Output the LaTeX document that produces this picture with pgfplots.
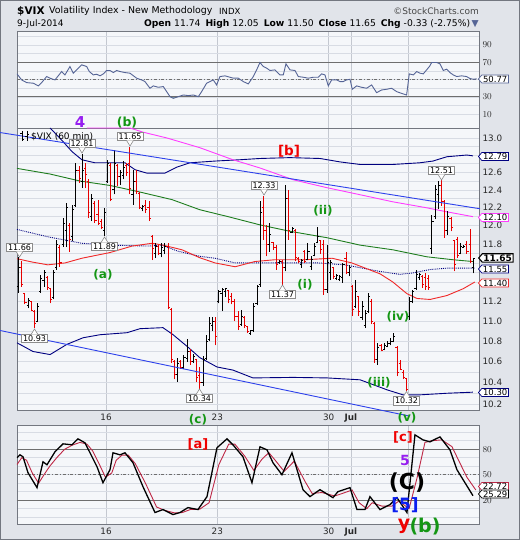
\documentclass[border=0pt]{standalone}
\usepackage{fontspec}
\setmainfont{DejaVu Sans}
\usepackage{pgfplots}
\pgfplotsset{compat=1.18}
\usepackage{pgfplotstable}
\usetikzlibrary{shapes.symbols}

\definecolor{outerbg}{RGB}{225,228,234}
\definecolor{panelbg}{RGB}{245,247,250}
\definecolor{gridc}{RGB}{216,220,228}
\definecolor{vgridc}{RGB}{196,200,208}
\definecolor{framec}{RGB}{115,119,128}
\definecolor{tickc}{RGB}{40,40,40}
\definecolor{barred}{RGB}{230,0,0}
\definecolor{navyc}{RGB}{0,0,128}
\definecolor{bluel}{RGB}{45,65,235}
\definecolor{magc}{RGB}{255,60,255}
\definecolor{greenma}{RGB}{30,125,30}
\definecolor{redma}{RGB}{240,40,40}
\definecolor{rsic}{RGB}{85,100,150}
\definecolor{rsifill}{RGB}{140,170,165}
\definecolor{stochred}{RGB}{190,40,70}
\definecolor{ewgreen}{RGB}{20,150,20}
\definecolor{ewred}{RGB}{240,0,0}
\definecolor{ewpurple}{RGB}{150,30,240}
\definecolor{ewblue}{RGB}{10,30,240}
\definecolor{callc}{RGB}{140,140,140}
\definecolor{refline}{RGB}{110,110,110}

\newcommand\fs[1]{\fontsize{#1}{#1}\selectfont}

\pgfdeclareplotmark{opentick}{\pgfpathmoveto{\pgfqpoint{-1.6pt}{0pt}}\pgfpathlineto{\pgfqpoint{0pt}{0pt}}\pgfusepathqstroke}
\pgfdeclareplotmark{closetick}{\pgfpathmoveto{\pgfqpoint{0pt}{0pt}}\pgfpathlineto{\pgfqpoint{1.6pt}{0pt}}\pgfusepathqstroke}

\pgfplotsset{panel/.style={scale only axis, width=462pt, xmin=0, xmax=145.3, anchor=south west,
  axis background/.style={fill=panelbg}, axis line style={framec, line width=0.8pt},
  xtick={28,63,98,105,123}, xmajorgrids, ymajorgrids, yminorgrids,
  major grid style={gridc, line width=0.6pt}, minor grid style={gridc, line width=0.6pt},
  major tick length=0pt, minor tick length=0pt, yticklabel pos=right,
  ticklabel style={font=\fs{8.8}, text=tickc}}}

\newcommand\callhi[3]{%
 \node[draw=callc, fill=white, line width=0.6pt, inner xsep=1.5pt, inner ysep=1pt, font=\fs{8}, anchor=south] at (#1,#2-5) {#3};
 \fill[white] (#1-3.5,#2-5.6) -- (#1,#2) -- (#1+3.5,#2-5.6) -- cycle;
 \draw[callc, line width=0.6pt] (#1-3.5,#2-5.6) -- (#1,#2) -- (#1+3.5,#2-5.6);}
\newcommand\calllo[3]{%
 \node[draw=callc, fill=white, line width=0.6pt, inner xsep=1.5pt, inner ysep=1pt, font=\fs{8}, anchor=north] at (#1,#2+5) {#3};
 \fill[white] (#1-3.5,#2+5.6) -- (#1,#2) -- (#1+3.5,#2+5.6) -- cycle;
 \draw[callc, line width=0.6pt] (#1-3.5,#2+5.6) -- (#1,#2) -- (#1+3.5,#2+5.6);}
\newcommand\vtag[5][]{\node[signal, signal to=west, signal pointer angle=100, draw=#2, fill=white, line width=0.7pt, inner xsep=1.2pt, inner ysep=0.8pt, font=\fs{8.5}, anchor=west, #1] at (#3,#4) {#5};}

% hourly OHLC bars, k = bar index (Jun 10 09:30 = 0)
\pgfplotstableread{
k o h l c
0 11.35 11.66 11.29 11.55
3 11.16 11.23 11.13 11.21
6 11.00 11.18 10.99 11.15
7 11.30 11.47 11.29 11.44
8 11.42 11.53 11.35 11.50
11 11.24 11.53 11.22 11.50
12 11.55 11.85 11.53 11.80
14 11.80 12.09 11.77 12.03
15 11.95 12.25 11.77 12.20
17 11.88 12.23 11.83 12.18
18 12.22 12.71 12.21 12.62
20 12.50 12.81 12.42 12.62
23 12.10 12.35 12.05 12.30
27 11.95 12.20 11.89 12.15
28 12.50 12.745 12.48 12.70
30 12.40 12.86 12.35 12.70
32 12.55 12.63 12.46 12.60
33 12.56 12.73 12.52 12.66
36 12.35 12.63 12.23 12.50
39 12.19 12.23 12.16 12.21
43 11.70 11.81 11.65 11.78
45 11.70 11.81 11.66 11.76
46 11.73 11.81 11.70 11.78
50 10.48 10.64 10.41 10.58
52 10.55 10.67 10.53 10.64
53 10.63 10.82 10.60 10.70
55 10.60 10.68 10.59 10.65
58 10.40 10.66 10.37 10.62
59 10.63 10.86 10.62 10.80
60 10.82 11.04 10.80 10.98
61 10.96 11.04 10.90 11.00
63 11.20 11.32 11.18 11.30
64 11.28 11.34 11.10 11.32
65 11.30 11.33 11.25 11.33
70 10.97 11.11 10.95 11.05
73 10.88 10.91 10.86 10.91
74 10.91 11.18 10.89 11.15
75 11.18 11.37 11.16 11.35
76 11.37 12.27 11.35 12.15
79 11.80 12.03 11.72 11.90
82 11.60 11.63 11.59 11.62
84 11.55 12.45 11.51 12.30
86 11.93 11.99 11.92 11.97
89 11.58 11.64 11.55 11.63
91 11.64 11.81 11.63 11.72
92 11.56 11.67 11.53 11.64
93 11.68 11.81 11.67 11.78
94 11.82 11.99 11.81 11.88
97 11.32 11.79 11.29 11.60
98 11.50 11.63 11.42 11.60
100 11.44 11.48 11.42 11.47
101 11.43 11.47 11.41 11.46
102 11.45 11.60 11.39 11.58
104 11.50 11.58 11.46 11.55
106 11.15 11.42 11.13 11.30
108 11.04 11.20 11.01 11.15
109 10.96 11.11 10.93 11.08
110 11.10 11.29 11.08 11.25
113 10.62 10.78 10.57 10.74
115 10.72 10.78 10.71 10.76
116 10.75 10.80 10.74 10.78
117 10.78 10.83 10.76 10.80
118 10.80 10.88 10.79 10.85
123 11.05 11.25 11.01 11.20
124 11.20 11.32 11.18 11.30
125 11.33 11.53 11.32 11.48
126 11.45 11.49 11.42 11.48
130 11.75 12.12 11.70 12.05
131 12.10 12.46 12.07 12.40
132 12.35 12.50 12.18 12.45
135 11.95 12.16 11.90 12.10
139 11.70 11.81 11.69 11.78
140 11.77 11.79 11.76 11.78
143 11.55 11.65 11.49 11.65
}\upbars

\pgfplotstableread{
k o h l c
1 11.55 11.62 11.35 11.37
2 11.28 11.29 11.17 11.19
4 11.20 11.20 11.10 11.11
5 11.10 11.11 10.93 10.98
9 11.45 11.46 11.32 11.34
10 11.33 11.34 11.18 11.22
13 11.77 11.79 11.56 11.60
16 12.00 12.03 11.72 11.85
19 12.62 12.67 12.48 12.53
21 12.65 12.71 12.42 12.58
22 12.50 12.52 12.08 12.15
24 12.25 12.27 12.03 12.06
25 12.12 12.29 12.01 12.03
26 12.05 12.07 11.96 11.98
29 12.68 12.71 12.27 12.29
31 12.68 12.69 12.44 12.55
34 12.68 12.71 12.56 12.60
35 12.70 12.90 12.35 12.42
37 12.50 12.63 12.35 12.38
38 12.36 12.38 12.18 12.20
40 12.22 12.29 12.14 12.18
41 12.20 12.27 12.05 12.08
42 11.88 11.90 11.63 11.75
44 11.78 11.79 11.68 11.70
47 11.78 11.81 11.12 11.14
48 11.12 11.13 10.59 10.62
49 10.60 10.62 10.43 10.48
51 10.60 10.62 10.53 10.55
54 10.70 10.72 10.57 10.60
56 10.62 10.62 10.41 10.45
57 10.47 10.55 10.34 10.40
62 11.00 11.04 10.76 10.85
66 11.31 11.32 11.18 11.22
67 11.25 11.29 11.17 11.20
68 11.20 11.22 11.00 11.05
69 11.05 11.10 10.91 10.95
71 11.04 11.05 10.93 10.96
72 10.95 10.95 10.88 10.90
77 12.20 12.33 11.85 11.95
78 11.95 12.01 11.67 11.80
80 11.82 11.82 11.74 11.76
81 11.76 11.79 11.53 11.58
83 11.62 11.63 11.37 11.55
85 12.30 12.40 11.85 11.95
87 11.95 11.96 11.62 11.66
88 11.65 11.66 11.60 11.62
90 11.72 11.74 11.60 11.62
95 11.84 11.85 11.70 11.74
96 11.80 11.84 11.27 11.32
99 11.55 11.56 11.43 11.46
103 11.65 11.72 11.48 11.50
105 11.35 11.37 11.05 11.12
107 11.25 11.26 11.05 11.10
111 11.20 11.22 10.97 11.00
112 10.98 10.99 10.59 10.62
114 10.76 10.77 10.70 10.71
119 10.74 10.75 10.46 10.50
120 10.58 10.62 10.52 10.53
121 10.50 10.52 10.43 10.45
122 10.44 10.44 10.32 10.34
127 11.46 11.47 11.34 11.37
128 11.45 11.49 11.32 11.35
129 11.44 11.47 11.32 11.34
133 12.45 12.51 12.22 12.27
134 12.27 12.29 11.87 11.95
136 12.08 12.10 11.94 11.98
137 11.84 11.85 11.51 11.58
138 11.85 11.88 11.65 11.68
141 11.80 11.83 11.70 11.72
142 11.80 11.96 11.60 11.62
}\downbars

\begin{document}
\begin{tikzpicture}
\fill[outerbg] (0,0) rectangle (520pt,540pt);
\useasboundingbox (0,0) rectangle (520pt,540pt);
\draw[framec, line width=0.8pt] (0.4pt,0.4pt) rectangle (519.6pt,539.6pt);

% ---------- RSI panel ----------
\begin{axis}[panel, at={(17pt,412pt)}, height=97pt, ymin=-6, ymax=106,
  ytick={10,30,70,90}, minor ytick={20,40,50,60,80,100}, xticklabels={},
  major x grid style={vgridc, line width=0.7pt}]
\addplot[fill=rsifill, draw=none, forget plot] coordinates {(47.7,30) (48.11,29.9) (49.16,28.3) (50.2,29.2) (50.73,30)} -- cycle;
\addplot[refline, line width=0.8pt] coordinates {(0,70) (145.3,70)};
\addplot[refline, line width=0.8pt] coordinates {(0,30) (145.3,30)};
\addplot[refline, line width=0.6pt, dash dot] coordinates {(0,50) (145.3,50)};
\addplot[rsic, line width=0.9pt] coordinates {
(0,56.5)(1.46,49.5)(3.04,46.4)(5.13,45.7)(6.7,42.6)(7.75,46.4)(9.33,53.4)(10.37,51.5)(11.95,49.5)
(14.04,59.2)(15.09,55.3)(16.66,65.0)(17.71,57.3)(18.76,61.1)(20.33,66.9)(21.9,65.0)(22.74,59.2)
(24.0,55.3)(25.05,56.1)(26.1,54.2)(27.15,56.5)(28.19,60.4)(29.24,60.4)(30.29,58.0)(31.34,60.4)
(32.39,59.2)(33.96,58.0)(35.53,57.3)(37.63,51.5)(39.2,49.5)(40.25,47.6)(41.82,39.9)(42.87,42.6)
(44.44,41.0)(46.01,41.8)(47.06,36.0)(48.11,30.2)(49.16,28.3)(50.73,30.2)(52.3,32.1)(53.87,31.4)
(55.45,32.1)(57.02,30.2)(58.07,36.0)(59.64,45.7)(61.74,49.5)(62.78,43.7)(63.83,53.4)(65.41,54.2)
(66.98,52.6)(68.03,51.5)(69.6,51.5)(71.17,47.6)(72.74,44.9)(74.32,53.4)(75.36,61.1)(76.41,69.6)
(77.46,65.0)(78.51,63.1)(79.56,60.4)(81.13,61.1)(82.7,55.3)(83.75,55.3)(84.59,68.1)(85.85,61.1)
(87.42,60.4)(88.47,53.4)(90.04,52.6)(91.61,51.5)(93.18,52.6)(94.75,52.6)(95.8,56.5)(96.85,55.3)
(97.9,42.6)(98.95,49.5)(100.52,49.5)(101.57,47.6)(102.62,47.6)(103.67,49.5)(104.72,50.3)(105.45,38.7)
(106.81,42.6)(108.38,41.0)(109.95,39.9)(111.53,43.7)(113.1,34.8)(114.67,37.9)(116.24,38.7)(117.82,39.9)
(119.39,36.0)(121.48,33.3)(122.53,32.1)(123.37,56.5)(124.63,55.3)(125.68,59.2)(126.73,57.3)(127.78,56.5)
(128.83,61.1)(129.87,65.8)(130.4,69.6)(131.97,69.6)(133.02,68.1)(134.07,60.4)(135.12,61.9)(136.16,58.0)
(137.21,55.3)(138.26,53.4)(139.83,54.2)(141.4,53.4)(142.45,51.1)(143.5,50.3)(144.55,50.77)};
\end{axis}

% ---------- Price panel ----------
\begin{axis}[panel, at={(17pt,130pt)}, height=282pt, ymode=log, ymin=10.144, ymax=13.12,
  ytick={10.2,10.4,10.6,10.8,11.0,11.2,11.8,12.0,12.2,12.4,12.6,13.0},
  yticklabels={10.2,10.4,10.6,10.8,11.0,11.2,11.8,12.0,12.2,12.4,12.6,13.0},
  minor ytick={10.3,10.5,10.7,10.9,11.1,11.3,11.4,11.5,11.6,11.7,11.9,12.1,12.3,12.5,12.7,12.8,12.9},
  xticklabels={16,23,30,\textbf{Jul},{}}, clip=false,
  major x grid style={vgridc, line width=0.7pt}]
% Bollinger bands
\addplot[navyc, line width=0.9pt] coordinates {(10.4,13.12)(14.2,12.97)(17.3,12.84)(20.4,12.745)(24.5,12.71)(29.2,12.71)(34.0,12.71)(37.1,12.63)(40.9,12.59)(46.5,12.59)(50.3,12.66)(54.4,12.71)(62.3,12.73)(70.1,12.745)(76.4,12.76)(85.8,12.77)(95.3,12.76)(101.6,12.72)(107.9,12.69)(118.2,12.69)(126.7,12.71)(130.8,12.73)(135.2,12.78)(141.5,12.80)(143.4,12.79)};
\addplot[navyc, line width=0.9pt] coordinates {(0,10.785)(5.0,10.70)(10.4,10.67)(15.7,10.77)(20.8,10.835)(26.1,10.865)(34.6,10.885)(38.7,10.925)(45.9,10.935)(49.1,10.865)(53.5,10.75)(57.5,10.64)(62.9,10.55)(67.9,10.52)(74.2,10.445)(86.8,10.45)(97.5,10.445)(107.9,10.427)(116.4,10.332)(121.4,10.285)(126.7,10.285)(135.2,10.30)(143.4,10.31)};
\addplot[navyc, line width=0.9pt, densely dotted] coordinates {(0,11.96)(9.7,11.88)(20.4,11.81)(29.2,11.79)(41.2,11.78)(45.6,11.79)(50.6,11.725)(57.5,11.67)(62.3,11.65)(68.6,11.60)(85.8,11.60)(94.7,11.60)(103.1,11.58)(114.2,11.51)(120.4,11.48)(124.5,11.495)(129.9,11.53)(135.2,11.545)(144,11.545)};
% moving averages
\addplot[greenma, line width=0.9pt] coordinates {(0,12.645)(10.4,12.58)(19.8,12.50)(29.2,12.45)(38.1,12.38)(48.7,12.29)(57.5,12.177)(66.4,12.10)(76.4,12.01)(85.8,11.94)(97.5,11.87)(107.9,11.79)(118.2,11.74)(128.9,11.665)(137.1,11.634)(143.4,11.615)};
\addplot[redma, line width=0.9pt] coordinates {(0,11.645)(4.7,11.61)(9.7,11.58)(15.1,11.60)(20.4,11.65)(29.2,11.71)(36.2,11.78)(42.5,11.81)(45.9,11.79)(51.9,11.74)(57.5,11.655)(62.3,11.60)(68.6,11.56)(74.8,11.615)(81.1,11.634)(90.6,11.634)(99.1,11.65)(105.3,11.60)(114.2,11.485)(118.2,11.40)(122.6,11.28)(125.8,11.23)(129.9,11.22)(135.2,11.26)(140.3,11.33)(144,11.40)};
\addplot[magc, line width=0.9pt] coordinates {(22,13.12)(35.5,13.12)(39.6,13.07)(47.2,13.0)(57.5,12.886)(67.9,12.745)(76.4,12.65)(86.8,12.515)(97.5,12.424)(107.9,12.345)(118.2,12.265)(128.9,12.198)(135.2,12.154)(143.4,12.10)};
% OHLC bars
\addplot[draw=none, no markers, forget plot, error bars/.cd, y dir=plus, y explicit, error mark=none, error bar style={draw=black, solid, line width=0.9pt}]
  table[x expr=\thisrow{k}+0.5, y=l, y error expr=\thisrow{h}-\thisrow{l}] {\upbars};
\addplot[only marks, mark=opentick, black, mark options={line width=0.9pt}, forget plot] table[x expr=\thisrow{k}+0.5, y=o] {\upbars};
\addplot[only marks, mark=closetick, black, mark options={line width=0.9pt}, forget plot] table[x expr=\thisrow{k}+0.5, y=c] {\upbars};
\addplot[draw=none, no markers, forget plot, error bars/.cd, y dir=plus, y explicit, error mark=none, error bar style={draw=barred, solid, line width=0.9pt}]
  table[x expr=\thisrow{k}+0.5, y=l, y error expr=\thisrow{h}-\thisrow{l}] {\downbars};
\addplot[only marks, mark=opentick, barred, mark options={line width=0.9pt}, forget plot] table[x expr=\thisrow{k}+0.5, y=o] {\downbars};
\addplot[only marks, mark=closetick, barred, mark options={line width=0.9pt}, forget plot] table[x expr=\thisrow{k}+0.5, y=c] {\downbars};
% trend lines
\addplot[bluel, line width=0.9pt] coordinates {(-5.35,13.066) (145.6,12.188)};
\addplot[bluel, line width=0.9pt] coordinates {(-5.35,10.907) (122.96,10.09)};
\end{axis}

% ---------- Stochastic panel ----------
\begin{axis}[panel, at={(17pt,16pt)}, height=99pt, ymin=-8, ymax=108.5,
  ytick={20,50,80}, minor ytick={0,10,30,40,60,70,90,100},
  xticklabels={16,23,30,\textbf{Jul},{}},
  major x grid style={vgridc, line width=0.7pt}]
\addplot[refline, line width=0.8pt] coordinates {(0,80) (145.3,80)};
\addplot[refline, line width=0.8pt] coordinates {(0,20) (145.3,20)};
\addplot[refline, line width=0.6pt, dash dot] coordinates {(0,50) (145.3,50)};
\addplot[stochred, line width=0.9pt] coordinates {
(0,62)(1.5,70)(3,67)(4.8,52)(6.8,40)(8.5,50)(10.3,60)(12.5,70)(15,80)(17.5,85)(19.8,88)(22,86)(23.8,78)
(25.8,63)(27.8,47)(29.8,52)(31.2,67)(33,73)(35,73)(37.2,63)(40.4,40)(43.9,12)(46.5,8)(49.6,5)(52,5.5)
(54.5,9)(57.5,9.5)(60.4,17)(63.5,62)(66.6,86)(68.5,86)(71.6,72)(74.5,55)(77,68)(79.2,76)(81.2,67)(84,54)
(87.2,66)(90.6,42)(92.8,28)(95.9,29)(99.9,25)(101.6,27)(105.4,32)(107.6,17)(110,10)(111.7,17)(114.8,13)
(117.9,13)(120.1,19)(123.3,10)(125.8,46)(128.3,88)(130.5,90)(133.6,91)(136.8,83)(139,66)(141.5,47)(144.3,32)};
\addplot[black, line width=1.3pt] coordinates {
(0,69.9)(0.94,73.4)(1.89,71.1)(3.46,52.3)(6.29,34.8)(8.18,65.2)(9.43,61.7)(11.95,77.0)(14.47,86.3)
(17.3,85.2)(19.18,92.2)(21.38,87.5)(22.96,75.8)(25.16,59.4)(27.04,40.6)(29.25,55.9)(30.19,75.8)
(32.39,73.4)(33.96,75.8)(36.48,64.1)(39.62,35.9)(43.4,5.5)(45.91,9.0)(49.06,3.1)(51.26,5.5)(53.77,11.3)
(56.92,9.0)(59.75,24.2)(62.89,81.7)(66.04,92.2)(67.92,85.2)(71.07,71.1)(73.9,40.6)(76.42,82.8)
(78.62,79.3)(80.5,64.1)(83.33,50.0)(86.48,75.8)(89.94,32.4)(92.14,24.2)(95.28,32.4)(99.37,23.0)
(100.94,30.1)(104.72,34.8)(106.92,9.0)(109.43,9.0)(111.01,24.2)(114.15,9.0)(117.3,14.8)(119.5,23.0)
(122.64,5.5)(125.16,96.9)(127.67,91.0)(129.87,88.7)(133.02,94.5)(136.16,79.3)(138.36,55.9)(140.88,40.6)(143.4,25.29)};
\end{axis}

% ---------- annotations (pixel coordinates) ----------
\begin{scope}[x=1pt, y=-1pt, shift={(0pt,540pt)}]
% header
\node[anchor=west, font=\fs{10.5}\bfseries, inner sep=0pt] at (17,11) {\$VIX};
\node[anchor=west, font=\fs{9.4}, inner sep=0pt] at (49,11) {Volatility Index - New Methodology};
\node[anchor=west, font=\fs{8.5}, inner sep=0pt] at (219,11) {INDX};
\node[anchor=east, font=\fs{9}, inner sep=0pt, text={rgb,255:red,70;green,70;blue,70}] at (479,11) {©StockCharts.com};
\node[anchor=west, font=\fs{9}, inner sep=0pt] at (17,24) {9-Jul-2014};
\node[anchor=east, font=\fs{9.2}, inner sep=0pt] at (479,24) {\textbf{Open} 11.74\hspace{5pt}\textbf{High} 12.05\hspace{5pt}\textbf{Low} 11.50\hspace{5pt}\textbf{Close} 11.65\hspace{5pt}\textbf{Chg} -0.33 (-2.75\%)\,\textcolor{rsic}{▼}};
% value tags
\vtag{rsic}{478}{79}{50.77}
\vtag{navyc}{478}{156.5}{12.79}
\vtag{magc}{478}{217.5}{12.10}
\vtag{navyc}{478}{269}{11.55}
\vtag[font=\fs{9}\bfseries, line width=1.1pt]{black}{478}{258}{11.65}
\vtag{redma}{478}{283}{11.40}
\vtag{navyc}{478}{392.5}{10.30}
\vtag{stochred}{478}{486.5}{22.72}
\vtag{black}{478}{494}{25.29}
% callouts
\callhi{82}{153}{12.81}
\callhi{19.5}{257}{11.66}
\calllo{104.5}{237}{11.89}
\callhi{264}{195}{12.33}
\callhi{441.5}{180}{12.51}
\calllo{282.5}{285}{11.37}
\calllo{34.5}{329}{10.93}
\calllo{199.5}{389}{10.34}
\calllo{406.5}{391.5}{10.32}
% legend
\draw[black, line width=0.8pt] (22,131)--(22,141) (20.3,133)--(22,133) (22,139)--(23.7,139);
\draw[black, line width=0.8pt] (27,131)--(27,141) (25.3,136)--(27,136) (27,134)--(28.7,134);
\node[anchor=west, font=\fs{9}, inner sep=0pt] at (31,136.5) {\$VIX (60 min)};
\callhi{130}{146}{11.65}
% Elliott wave labels
\node[font=\fs{15}\bfseries, text=ewpurple, inner sep=0pt] at (80,122.5) {4};
\node[font=\fs{12.5}\bfseries, text=ewgreen, inner sep=0pt] at (127,123) {(b)};
\node[font=\fs{13.5}\bfseries, text=ewred] at (289,151) {[b]};
\node[font=\fs{12}\bfseries, text=ewgreen] at (323,211) {(ii)};
\node[font=\fs{12}\bfseries, text=ewgreen] at (305,285) {(i)};
\node[font=\fs{12}\bfseries, text=ewgreen] at (103,275) {(a)};
\node[font=\fs{12}\bfseries, text=ewgreen] at (379,383) {(iii)};
\node[font=\fs{12}\bfseries, text=ewgreen] at (398,317) {(iv)};
\node[font=\fs{12}\bfseries, text=ewgreen] at (198,420) {(c)};
\node[font=\fs{12}\bfseries, text=ewgreen] at (407,418) {(v)};
\node[font=\fs{13}\bfseries, text=ewred] at (198,444) {[a]};
\node[font=\fs{13}\bfseries, text=ewred] at (403,437) {[c]};
\node[font=\fs{14}\bfseries, text=ewpurple] at (405,460) {5};
\node[font=\fs{22}\bfseries, text=black] at (407,483) {(C)};
\node[font=\fs{17}\bfseries, text=ewblue] at (405,505) {[5]};
\node[font=\fs{19}\bfseries, text=ewred] at (404,526) {y};
\node[font=\fs{19}\bfseries, text=ewgreen] at (425,527) {(b)};
\end{scope}
\end{tikzpicture}
\end{document}
